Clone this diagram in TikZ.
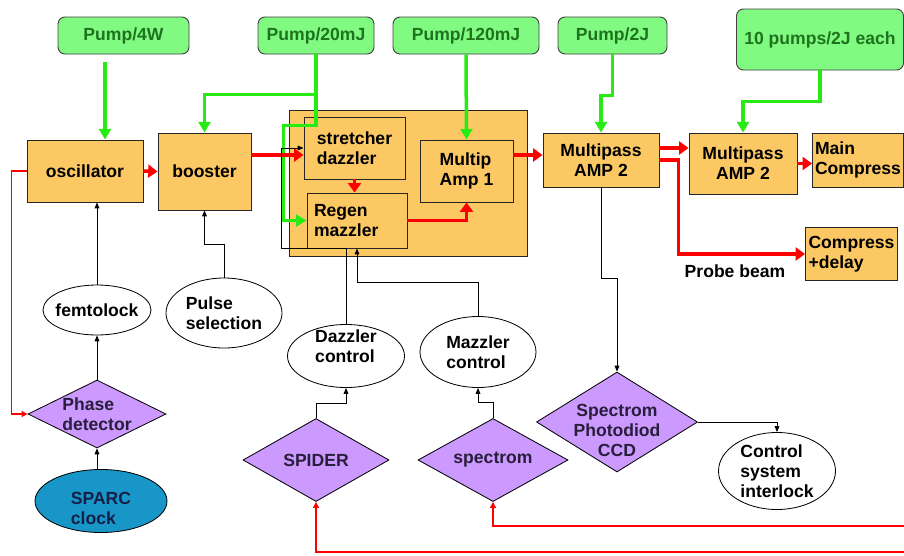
\documentclass[tikz,border=0pt]{standalone}
\usepackage{fontspec}
\setmainfont{Liberation Sans}
\usepackage{tikz}
\usetikzlibrary{positioning,arrows.meta,calc,shapes.geometric}
\usepackage{xcolor}

\definecolor{stageorange}{RGB}{252,200,100}
\definecolor{pumpgreen}{RGB}{128,250,128}
\definecolor{pumptext}{RGB}{30,115,30}
\definecolor{beamgreen}{RGB}{40,235,20}
\definecolor{diapurple}{RGB}{204,153,255}
\definecolor{diatext}{RGB}{40,30,60}
\definecolor{clockblue}{RGB}{25,150,200}
\definecolor{clocktext}{RGB}{20,30,70}

\def\px{0.03cm} % one pixel of the sketch

\begin{document}
\begin{tikzpicture}[x=\px,y=-\px,
  every node/.style={font=\fontsize{15}{17}\selectfont\bfseries},
  sz/.style 2 args={minimum width=#1*\px, minimum height=#2*\px},
  pump/.style={draw=black!75, fill=pumpgreen, rounded corners=6pt, line width=0.8pt, text=pumptext, inner sep=1pt},
  stage/.style={draw=black!85, fill=stageorange, line width=0.8pt, inner sep=1pt, align=center},
  ctrl/.style={ellipse, draw=black, fill=white, line width=0.7pt, inner sep=0pt},
  meas/.style={diamond, draw=black, fill=diapurple, line width=0.7pt, inner sep=0pt},
  ctxt/.style={align=left, text=black},
  dtxt/.style={align=center, text=diatext},
  pumpline/.style={draw=beamgreen, line width=3pt, -{Triangle[length=9pt,width=10pt]}},
  beam/.style={draw=red, line width=3pt, -{Triangle[length=8pt,width=11pt]}},
  fb/.style={draw=red, line width=1pt, -{Triangle[length=5pt,width=5pt]}},
  sig/.style={draw=black, line width=0.8pt, -{Triangle[length=5pt,width=4pt]}}]

\useasboundingbox (0,0) rectangle (904,555);

% pump lasers
\node[pump, sz={131}{37}] (p4w)  at (123.5,35.5) {Pump/4W};
\node[pump, sz={116}{37}] (p20)  at (316,35.5)   {Pump/20mJ};
\node[pump, sz={146}{37}] (p120) at (466,35.5)   {Pump/120mJ};
\node[pump, sz={109}{37}] (p2j)  at (612.5,35.5) {Pump/2J};
\node[pump, sz={167}{61}] (p10)  at (820,39.5)   {10 pumps/2J each};

% laser chain
\node[stage, sz={238}{146}] (amp1sys) at (408,183) {};
\node[stage, sz={116}{62}] (osc)     at (85,171)    {oscillator};
\node[stage, sz={93}{77}]  (boost)   at (204.5,171.5) {booster};
\node[stage, sz={101}{62}, align=left] (stretch) at (354.5,148) {stretcher\\dazzler};
\node[stage, sz={100}{55}, align=left, text width=2.58cm] (regen) at (357,220.5) {Regen\\mazzler};
\node[stage, sz={93}{62}, align=left]  (mamp1)   at (466.5,171) {Multip\\Amp 1};
\node[stage, sz={116}{54}] (amp2a)   at (601,160)   {Multipass\\AMP 2};
\node[stage, sz={108}{61}] (amp2b)   at (743,163.5) {Multipass\\AMP 2};
\node[stage, sz={91}{54}, align=left]  (mainc)   at (858,160)   {Main\\Compress};
\node[stage, sz={92}{53}, align=left]  (compd)   at (851.5,254) {Compress\\+delay};
\node (probe) at (735,271) {Probe beam};

% controls and diagnostics
\node[ctrl, sz={108}{50}, label={[ctxt]center:femtolock}] (femto) at (97,310) {};
\node[ctrl, sz={116}{70}, label={[ctxt]center:Pulse\\selection}] (pulse) at (224,313) {};
\node[ctrl, sz={117}{63}, label={[ctxt,yshift=8.5pt]center:Dazzler\\control}] (dazc) at (346,356) {};
\node[ctrl, sz={116}{71}, label={[ctxt]center:Mazzler\\control}] (mazc) at (478,352) {};
\node[ctrl, sz={117}{77}, label={[ctxt]center:Control\\system\\interlock}] (ilock) at (777,471) {};
\node[ctrl, fill=clockblue, sz={132}{63}, label={[ctxt,text=clocktext,yshift=-6pt]center:SPARC\\clock}] (sparc) at (101,501) {};

\node[meas, sz={138}{68}, label={[dtxt,align=left]center:Phase\\detector}] (phase) at (97,414) {};
\node[meas, sz={146}{83}, label={[dtxt]center:SPIDER}] (spider) at (316,460) {};
\node[meas, sz={150}{83}, label={[dtxt]center:spectrom}] (spec) at (493,460) {};
\node[meas, sz={161}{100}, label={[dtxt,yshift=-7pt]center:Spectrom\\Photodiod\\CCD}] (ccd) at (617,422) {};

% pump beams
\draw[pumpline] ($(p4w.south)+(-18.5,8)$) -- ($(osc.north)+(20,0)$);
\draw[pumpline] (p20.south) |- ($(boost.north)+(0,-38)$) -- (boost.north);
\draw[pumpline] (p20.south) -- ++(0,71) -| ($(regen.west)+(-23,0)$) -- (regen.west);
\draw[pumpline] (p120.south) -- (mamp1.north);
\draw[pumpline] (p2j.south) -- ++(0,41) -| (amp2a.north);
\draw[pumpline] (p10.south) -- ++(0,31) -| (amp2b.north);

% laser beam
\draw[beam] (osc.east) -- (boost.west);
\draw[beam] ($(boost.east)+(0,-16.5)$) coordinate (b1) -- (b1 -| stretch.west);
\draw[beam] (stretch.south) -- (stretch.south |- regen.north);
\draw[beam] (regen.east) -| (mamp1.south);
\draw[beam] ($(mamp1.east)+(0,-16)$) coordinate (b2) -- (b2 -| amp2a.west);
\draw[beam] ($(amp2a.east)+(0,-12)$) coordinate (b3) -- (b3 -| amp2b.west);
\draw[beam] (amp2b.east) -- (amp2b.east -| mainc.west);
\draw[beam] (amp2a.east) -- ++(19,0) |- (compd.west);

% feedback lines
\coordinate (edge1) at (904,552);
\coordinate (edge2) at (904,526);
\draw[fb] (osc.west) -- ++(-15,0) |- (phase.west);
\draw[fb] (edge1) -| (spider.south);
\draw[fb] (edge2) -| (spec.south);

% control signals
\draw[sig] (femto.north) -- (femto.north |- osc.south);
\draw[sig] (phase.north) -- (femto.south);
\draw[sig] (phase.south |- sparc.north) -- (phase.south);
\draw[sig] (pulse.north) -- ++(0,-33) -| (boost.south);
\draw[sig] (dazc.north) |- ($(regen.south west)+(-25,0)$) |- (stretch.west);
\draw[sig] (mazc.north) -- ++(0,-34) -| (regen.south);
\draw[sig] (spider.north) -- ++(0,-15) -| (dazc.south);
\draw[sig] (spec.north) -- ++(0,-16) -| (mazc.south);
\draw[sig] (amp2a.south) -- ++(0,91) -| (ccd.north);
\draw[sig] (ccd.east) -| (ilock.north);
\end{tikzpicture}
\end{document}
